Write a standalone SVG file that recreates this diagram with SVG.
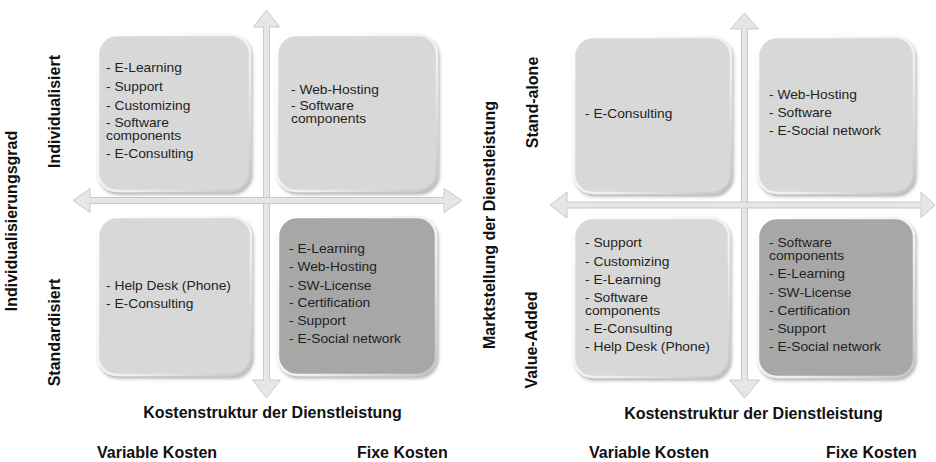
<svg xmlns="http://www.w3.org/2000/svg" width="936" height="462" viewBox="0 0 936 462">
  <defs>
    <filter id="soft" x="-10%" y="-10%" width="125%" height="125%">
      <feDropShadow dx="1.5" dy="2.5" stdDeviation="1.6" flood-color="#7a7a7a" flood-opacity="0.55"/>
    </filter>
    <linearGradient id="rim" x1="0" y1="0" x2="1" y2="1">
      <stop offset="0" stop-color="#ffffff"/>
      <stop offset="0.6" stop-color="#f0f0f0"/>
      <stop offset="1" stop-color="#c4c4c4"/>
    </linearGradient>
  </defs>
  <style>
    .box { stroke: url(#rim); stroke-width: 2.5; filter: url(#soft); }
    .light { fill: #d8d8d8; }
    .dark { fill: #a7a7a7; }
    .item { font-family: "Liberation Sans", Arial, sans-serif; font-size: 12px; fill: #1f1f1f; }
    .axis { font-family: "Liberation Sans", Arial, sans-serif; font-weight: bold; font-size: 16px; fill: #111; }
    .end { font-family: "Liberation Sans", Arial, sans-serif; font-weight: bold; font-size: 16px; fill: #111; }
    .arrow { fill: #e6e6e6; stroke: #c9c9c9; stroke-width: 1; stroke-linejoin: miter; }
  </style>
  <rect width="936" height="462" fill="#ffffff"/>

  <!-- axes (double-headed block arrows) -->
  <g id="connectors">
    <polygon class="arrow" points="266.5,10 279.5,27 269.5,27 269.5,380 280.5,380 266.5,398 252.5,380 263.5,380 263.5,27 253.5,27"/>
    <polygon class="arrow" points="73,200.5 90,188.5 90,197.5 444,197.5 444,188.5 462,200.5 444,212.5 444,203.5 90,203.5 90,212.5"/>
    <polygon class="arrow" points="744.5,13 758.5,29 747.5,29 747.5,380 759.5,380 744.5,398 729.5,380 741.5,380 741.5,29 730.5,29"/>
    <polygon class="arrow" points="550,205 567,192 567,202 921,202 921,192 935,205 921,218 921,208 567,208 567,218"/>
  </g>

  <!-- left matrix: Individualisierungsgrad x Kostenstruktur -->
  <g id="l-individual-variable">
    <rect class="box light" x="98" y="35" width="152" height="156" rx="19"/>
    <g class="item" transform="translate(106,0) scale(1.15,1)">
      <text x="0" y="72">- E-Learning</text>
      <text x="0" y="91">- Support</text>
      <text x="0" y="110">- Customizing</text>
      <text x="0" y="127.5">- Software</text>
      <text x="0" y="140">components</text>
      <text x="0" y="158">- E-Consulting</text>
    </g>
  </g>
  <g id="l-individual-fixed">
    <rect class="box light" x="277" y="35" width="160" height="156" rx="19"/>
    <g class="item" transform="translate(291,0) scale(1.15,1)">
      <text x="0" y="94">-  Web-Hosting</text>
      <text x="0" y="110">-  Software</text>
      <text x="0" y="123">components</text>
    </g>
  </g>
  <g id="l-standard-variable">
    <rect class="box light" x="98" y="217" width="153" height="158" rx="19"/>
    <g class="item" transform="translate(106,0) scale(1.15,1)">
      <text x="0" y="290">- Help Desk (Phone)</text>
      <text x="0" y="308">- E-Consulting</text>
    </g>
  </g>
  <g id="l-standard-fixed">
    <rect class="box dark" x="278" y="217" width="158" height="158" rx="19"/>
    <g class="item" transform="translate(289,0) scale(1.15,1)">
      <text x="0" y="253">- E-Learning</text>
      <text x="0" y="271.5">- Web-Hosting</text>
      <text x="0" y="290">- SW-License</text>
      <text x="0" y="307.5">- Certification</text>
      <text x="0" y="325">- Support</text>
      <text x="0" y="343">- E-Social network</text>
    </g>
  </g>

  <text class="axis" transform="translate(17,221) rotate(-90)" text-anchor="middle">Individualisierungsgrad</text>
  <text class="end" transform="translate(60,111.5) rotate(-90)" text-anchor="middle">Individualisiert</text>
  <text class="end" transform="translate(60,332.5) rotate(-90)" text-anchor="middle">Standardisiert</text>
  <text class="axis" x="272.5" y="418" text-anchor="middle">Kostenstruktur der Dienstleistung</text>
  <text class="end" x="97" y="458">Variable Kosten</text>
  <text class="end" x="357" y="458">Fixe Kosten</text>

  <!-- right matrix: Marktstellung x Kostenstruktur -->
  <g id="r-standalone-variable">
    <rect class="box light" x="574" y="37" width="157" height="156" rx="19"/>
    <g class="item" transform="translate(585,0) scale(1.15,1)">
      <text x="0" y="118">- E-Consulting</text>
    </g>
  </g>
  <g id="r-standalone-fixed">
    <rect class="box light" x="758" y="37" width="156" height="156" rx="19"/>
    <g class="item" transform="translate(769,0) scale(1.15,1)">
      <text x="0" y="99">- Web-Hosting</text>
      <text x="0" y="117">- Software</text>
      <text x="0" y="135">- E-Social network</text>
    </g>
  </g>
  <g id="r-valueadded-variable">
    <rect class="box light" x="574" y="218" width="155" height="159" rx="19"/>
    <g class="item" transform="translate(585,0) scale(1.15,1)">
      <text x="0" y="247.5">- Support</text>
      <text x="0" y="266">- Customizing</text>
      <text x="0" y="284">- E-Learning</text>
      <text x="0" y="302">- Software</text>
      <text x="0" y="315">components</text>
      <text x="0" y="333.5">- E-Consulting</text>
      <text x="0" y="351.5">- Help Desk (Phone)</text>
    </g>
  </g>
  <g id="r-valueadded-fixed">
    <rect class="box dark" x="758" y="218" width="156" height="159" rx="19"/>
    <g class="item" transform="translate(769,0) scale(1.15,1)">
      <text x="0" y="247.5">- Software</text>
      <text x="0" y="260">components</text>
      <text x="0" y="278.5">- E-Learning</text>
      <text x="0" y="297">- SW-License</text>
      <text x="0" y="315">- Certification</text>
      <text x="0" y="333.5">- Support</text>
      <text x="0" y="351.5">- E-Social network</text>
    </g>
  </g>

  <text class="axis" transform="translate(495,225) rotate(-90)" text-anchor="middle">Marktstellung der Dienstleistung</text>
  <text class="end" transform="translate(537.5,102.5) rotate(-90)" text-anchor="middle">Stand-alone</text>
  <text class="end" transform="translate(536.5,340) rotate(-90)" text-anchor="middle">Value-Added</text>
  <text class="axis" x="753.5" y="419" text-anchor="middle">Kostenstruktur der Dienstleistung</text>
  <text class="end" x="589" y="458">Variable Kosten</text>
  <text class="end" x="826" y="458">Fixe Kosten</text>
</svg>
